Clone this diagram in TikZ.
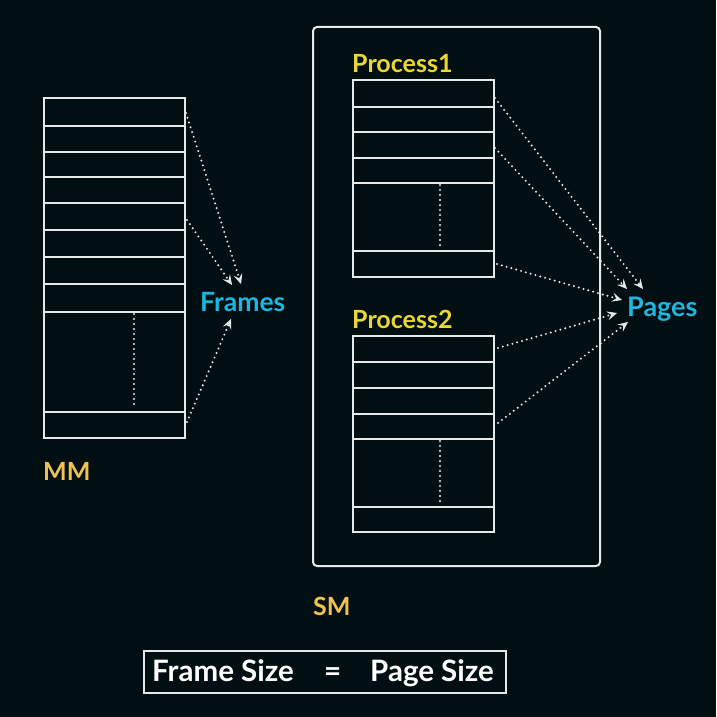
\documentclass[tikz,border=0pt]{standalone}
\usepackage{fontspec}
\setmainfont{Lato}
\usetikzlibrary{arrows.meta}
\definecolor{bgc}{HTML}{020F12}
\definecolor{linec}{HTML}{E4EAEA}
\definecolor{yelc}{HTML}{E8D830}
\definecolor{orac}{HTML}{F2C24E}
\definecolor{cyac}{HTML}{1CB6DE}
\tikzset{
  membox/.style={draw=linec, line width=2pt},
  dotline/.style={draw=linec, line width=2.2pt, line cap=round, dash pattern=on 0pt off 5pt},
  dotarrow/.style={dotline, -{Stealth[length=10pt,width=9pt,inset=4pt,fill=linec,line width=0.6pt]}},
  lbl/.style={inner sep=0pt, anchor=base west, font=\bfseries\fontsize{25}{25}\selectfont},
  eqtext/.style={lbl, text=white, font=\bfseries\fontsize{29.5}{29.5}\selectfont},
}
\begin{document}
\begin{tikzpicture}[x=1pt,y=-1pt]
\fill[bgc] (0,0) rectangle (716,717);
\useasboundingbox (0,0) rectangle (716,717);

% MM
\draw[membox] (44,98) rectangle (185,438);
\foreach \yy in {126,152,177,203,230,257,284,312,412}
  \draw[membox] (44,\yy) -- (185,\yy);
\draw[dotline] (134,314) -- (134,408);
\node[lbl, text=orac] (mm) at (43,480) {MM};

% SM outer box
\draw[membox, rounded corners=4pt] (313,27) rectangle (600,566);
\node[lbl, text=orac] (sm) at (313,615) {SM};

% Process1
\draw[membox] (353,80) rectangle (494,277);
\foreach \yy in {107,132,158,183,251}
  \draw[membox] (353,\yy) -- (494,\yy);
\draw[dotline] (440,185) -- (440,249);
\node[lbl, text=yelc] (p1) at (352,72) {Process1};

% Process2
\draw[membox] (353,336) rectangle (494,532);
\foreach \yy in {362,388,414,439,507}
  \draw[membox] (353,\yy) -- (494,\yy);
\draw[dotline] (440,441) -- (440,505);
\node[lbl, text=yelc] (p2) at (352,328) {Process2};

% Frames / Pages
\node[lbl, text=cyac, font=\bfseries\fontsize{26.5}{26.5}\selectfont] (frames) at (200,311) {Frames};
\node[lbl, text=cyac, font=\bfseries\fontsize{27}{27}\selectfont] (pages) at (627,316) {Pages};

% connector endpoints
\coordinate (m1) at (186,113);
\coordinate (m2) at (187,220);
\coordinate (m3) at (187,422);
\coordinate (f1) at (241,284);
\coordinate (f2) at (232,285);
\coordinate (f3) at (231,319);
\coordinate (a1) at (495,98);
\coordinate (a2) at (495,148);
\coordinate (a3) at (497,264);
\coordinate (b1) at (498,348);
\coordinate (b2) at (498,423);
\coordinate (g1) at (643,289);
\coordinate (g2) at (627,289);
\coordinate (g3) at (622,300);
\coordinate (g4) at (617,313);
\coordinate (g5) at (628,322);

\draw[dotarrow] (m1) -- (f1);
\draw[dotarrow] (m2) -- (f2);
\draw[dotarrow] (m3) -- (f3);
\draw[dotarrow] (a1) -- (g1);
\draw[dotarrow] (a2) -- (g2);
\draw[dotarrow] (a3) -- (g3);
\draw[dotarrow] (b1) -- (g4);
\draw[dotarrow] (b2) -- (g5);

% equation box
\draw[draw=linec, line width=1.8pt] (144,651) rectangle (506,693);
\node[eqtext] (eqa) at (152,681) {Frame Size};
\node[eqtext] (eqb) at (324,681) {=};
\node[eqtext] (eqc) at (370,681) {Page Size};
\end{tikzpicture}
\end{document}
